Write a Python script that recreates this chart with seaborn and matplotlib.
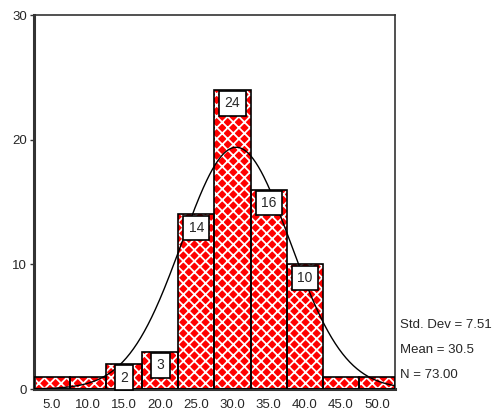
import numpy as np
import pandas as pd
import matplotlib
matplotlib.use("Agg")
import matplotlib.pyplot as plt
import seaborn as sns

# Histogram data: bin centres and counts
bin_centers = [5.0, 10.0, 15.0, 20.0, 25.0, 30.0, 35.0, 40.0, 45.0, 50.0]
counts = [1, 1, 2, 3, 14, 24, 16, 10, 1, 1]
tick_labels = ["5.0", "10.0", "15.0", "20.0", "25.0", "30.0", "35.0", "40.0", "45.0", "50.0"]
std_dev = 7.51
mean = 30.5
n_total = 73.00
bin_width = 5.0

sns.set_style("white")
plt.rcParams["font.family"] = ["Liberation Sans", "DejaVu Sans"]
plt.rcParams["hatch.linewidth"] = 1.3
plt.rcParams["hatch.color"] = "white"

df = pd.DataFrame({"value": bin_centers, "count": counts})
edges = [c - bin_width / 2 for c in bin_centers] + [bin_centers[-1] + bin_width / 2]

fig = plt.figure(figsize=(4.94, 4.13), dpi=100)
ax = fig.add_axes([34 / 494, 24 / 413, 361 / 494, 374 / 413])

# Hatched fill layer
sns.histplot(data=df, x="value", weights="count", bins=edges, ax=ax,
             color="red", alpha=1, element="bars", linewidth=0, zorder=2)
for p in ax.patches:
    p.set_facecolor("#ff0000")
    p.set_edgecolor("white")
    p.set_hatch("xxx")
    p.set_linewidth(0)

# Black outlines on top of the hatch
for c, h in zip(bin_centers, counts):
    ax.add_patch(plt.Rectangle((c - bin_width / 2, 0), bin_width, h,
                               fill=False, edgecolor="black", linewidth=1.2, zorder=3))

# Normal curve scaled to the counts
xs = np.linspace(edges[0], edges[-1], 400)
ys = n_total * bin_width / (std_dev * np.sqrt(2 * np.pi)) * np.exp(-0.5 * ((xs - mean) / std_dev) ** 2)
sns.lineplot(x=xs, y=ys, ax=ax, color="black", linewidth=1.0, zorder=4)

# Count labels in boxes
for c, h in zip(bin_centers, counts):
    if h >= 2:
        ax.annotate(str(h), xy=(c, h), xytext=(0, -4.8), textcoords="offset points",
                    ha="center", va="top", fontsize=10, zorder=5,
                    bbox=dict(boxstyle="square,pad=0.38", facecolor="white",
                              edgecolor="black", linewidth=1.2))

ax.set_xlim(edges[0], edges[-1])
ax.set_ylim(0, 30)
ax.set_xticks(bin_centers)
ax.set_xticklabels(tick_labels, fontsize=9.5)
ax.set_yticks([0, 10, 20, 30])
ax.set_yticklabels(["0", "10", "20", "30"], fontsize=9.5)
ax.set_xlabel("")
ax.set_ylabel("")
ax.tick_params(axis="y", length=3, width=1, left=True, pad=2, color="#333333")
ax.tick_params(axis="x", length=0, pad=7)

for side in ["left", "bottom"]:
    ax.spines[side].set_linewidth(2.2)
    ax.spines[side].set_color("#333333")
for side in ["top", "right"]:
    ax.spines[side].set_linewidth(1.2)
    ax.spines[side].set_color("#333333")
    ax.spines[side].set_visible(True)

# Summary statistics
stats = [f"Std. Dev = {std_dev:.2f}", f"Mean = {mean:.1f}", f"N = {n_total:.2f}"]
for i, s in enumerate(stats):
    fig.text(400 / 494, 1 - (325 + 25 * i) / 413, s, fontsize=9.5, va="center", ha="left")

fig.savefig("out.png", dpi=100)
